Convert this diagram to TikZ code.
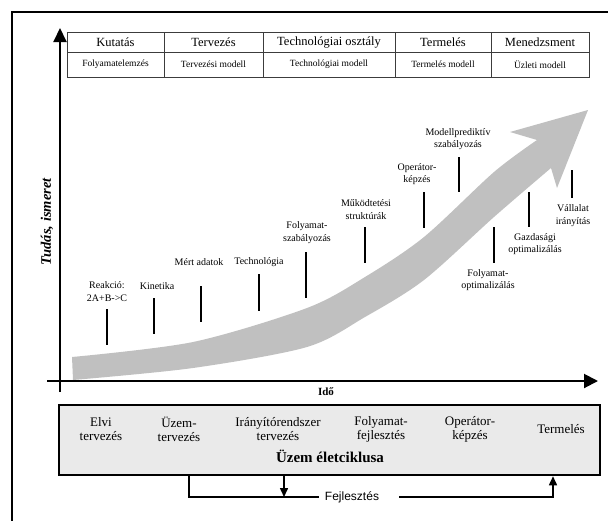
\documentclass[tikz,border=0pt]{standalone}
\usepackage{fontspec}
\setmainfont{Liberation Serif}
\newfontfamily\sansf{Liberation Sans}
\usetikzlibrary{arrows.meta}
\definecolor{arrowgray}{RGB}{192,192,192}
\definecolor{boxgray}{RGB}{234,234,234}
\definecolor{tablegray}{RGB}{60,60,60}
\begin{document}
\begin{tikzpicture}[x=1pt,y=-1pt,
  hdr/.style={font=\fontsize{12.5}{14}\selectfont, inner sep=0},
  sub/.style={font=\fontsize{9.5}{11}\selectfont, inner sep=0},
  lbl/.style={font=\fontsize{10}{12.5}\selectfont, align=center, inner sep=0},
  tickline/.style={line width=2pt},
  stage/.style={font=\fontsize{13}{14}\selectfont, align=center, inner sep=0},
  conn/.style={line width=1.5pt},
  ahead/.style={-{Triangle[length=9pt,width=8pt]}},
  grid/.style={tablegray, line width=1pt},
]
\useasboundingbox (0,0) rectangle (608,520);
% outer frame
\draw[line width=2.5pt] (12,522) -- (12,12) -- (610,12);

% table
\draw[grid] (67,32) rectangle (589,77);
\draw[grid] (67,52) -- (589,52) (164,32) -- (164,77) (263,32) -- (263,77)
  (395,32) -- (395,77) (491,32) -- (491,77);
\node[hdr] (h1) at (115.5,42) {Kutatás};
\node[hdr] (h2) at (213.5,42) {Tervezés};
\node[hdr] (h3) at (329,42) {Technológiai osztály};
\node[hdr] (h4) at (443,42) {Termelés};
\node[hdr] (h5) at (540,42) {Menedzsment};
\node[sub] (m1) at (115.5,64.5) {Folyamatelemzés};
\node[sub] (m2) at (213.5,64.5) {Tervezési modell};
\node[sub] (m3) at (329,64.5) {Technológiai modell};
\node[sub] (m4) at (443,64.5) {Termelés modell};
\node[sub] (m5) at (540,64.5) {Üzleti modell};

% big gray arrow
\fill[arrowgray] plot[smooth] coordinates {(72,357) (193,342) (307,308) (365,277) (424,237) (494,172) (537,140)}
  -- (510,132) -- (588,110) -- (557,188) -- (551,168)
  -- plot[smooth] coordinates {(551,168) (494,217) (424,280) (365,317) (307,347) (193,368) (73,380)}
  -- cycle;

% axes
\draw[line width=2pt, -{Triangle[length=14pt,width=13pt]}] (60,392) -- (60,28);
\draw[line width=2pt, -{Triangle[length=14pt,width=14pt]}] (47,381) -- (598,381);
\node[rotate=90, font=\fontsize{14.5}{16}\selectfont\bfseries\itshape] (yl) at (47,222) {Tudás, ismeret};
\node[font=\fontsize{11}{12}\selectfont\bfseries] (xl) at (326,392) {Idő};

% labels and ticks
\node[lbl] (l1) at (107,291.5) {Reakció:\\2A+B->C};
\draw[tickline] (107,309) -- (107,345);
\node[lbl] (l2) at (157,286) {Kinetika};
\draw[tickline] (154,298) -- (154,334);
\node[lbl] (l3) at (199,262) {Mért adatok};
\draw[tickline] (201,286) -- (201,322);
\node[lbl] (l4) at (259,262) {Technológia};
\draw[tickline] (259,274) -- (259,311);
\node[lbl] (l5) at (307,232.5) {Folyamat-\\szabályozás};
\draw[tickline] (306,252) -- (306,298);
\node[lbl] (l6) at (366,209.5) {Működtetési\\struktúrák};
\draw[tickline] (365,227) -- (365,263);
\node[lbl] (l7) at (417,174) {Operátor-\\képzés};
\draw[tickline] (424,192) -- (424,228);
\node[lbl] (l8) at (458,139) {Modellprediktív\\szabályozás};
\draw[tickline] (459,157) -- (459,192);
\node[lbl] (l9) at (488,280) {Folyamat-\\optimalizálás};
\draw[tickline] (494,227) -- (494,263);
\node[lbl] (l10) at (535,244) {Gazdasági\\optimalizálás};
\draw[tickline] (529,192) -- (529,227);
\node[lbl] (l11) at (573,215.5) {Vállalat\\irányítás};
\draw[tickline] (572,170) -- (572,198);

% life cycle box
\node[draw, line width=2.5pt, fill=boxgray, minimum width=541, minimum height=70, inner sep=0] (life) at (329.5,440) {};
\node[stage] (s1) at (101,429) {Elvi\\tervezés};
\node[stage] (s2) at (179,429) {Üzem-\\tervezés};
\node[stage] (s3) at (278,429) {Irányítórendszer\\tervezés};
\node[stage] (s4) at (381,429) {Folyamat-\\fejlesztés};
\node[stage] (s5) at (470,429) {Operátor-\\képzés};
\node[stage] (s6) at (561,429) {Termelés};
\node[font=\fontsize{15}{16}\selectfont\bfseries, inner sep=0] (title) at (330,456) {Üzem életciklusa};

% development loop
\node[font=\sansf\fontsize{12}{13}\selectfont, inner xsep=6pt, inner ysep=0] (fej) at (352,497) {Fejlesztés};
\coordinate (ja) at (189,497);
\coordinate (jd) at (284,497);
\coordinate (jb) at (399,497);
\coordinate (je) at (553,497);
\draw[conn] (life.south -| ja) -- (ja) -- (fej.west);
\draw[conn, ahead] (life.south -| jd) -- (jd);
\draw[conn, ahead] (jb) -- (je) -- (life.south -| je);
\end{tikzpicture}
\end{document}
